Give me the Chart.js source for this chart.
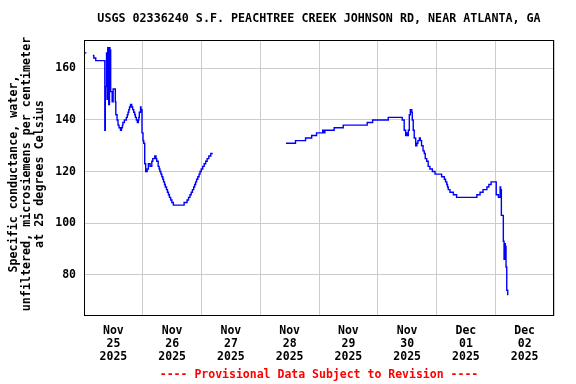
<!DOCTYPE html>
<html>
<head>
<meta charset="utf-8">
<script src="https://cdn.jsdelivr.net/npm/chart.js@4/dist/chart.umd.min.js"></script>
<style>
  html, body { margin: 0; padding: 0; background: #fff; }
</style>
</head>
<body>
<canvas id="usgs-chart" width="576" height="384"></canvas>
<script>
const titleText = 'USGS 02336240 S.F. PEACHTREE CREEK JOHNSON RD, NEAR ATLANTA, GA';
const yTitle = [
  'Specific conductance, water,',
  'unfiltered, microsiemens per centimeter',
  'at 25 degrees Celsius',
];
const footerText = '---- Provisional Data Subject to Revision ----';

const dayMonths = ['Nov', 'Nov', 'Nov', 'Nov', 'Nov', 'Nov', 'Dec', 'Dec'];
const dayNums = ['25', '26', '27', '28', '29', '30', '01', '02'];
const dayYears = ['2025', '2025', '2025', '2025', '2025', '2025', '2025', '2025'];
const yTicks = [80, 100, 120, 140, 160];

// hours since 2025-11-25 00:00; null = no data
const hours = [
  0, 1, 2,
  3.6, 4.0, 4.8, 8.5, 8.7, 9.2, 9.4, 9.7, 10.1, 10.4, 10.6, 10.9, 11.5, 11.9,
  12.8, 13.0, 13.5, 13.9, 14.3, 14.9, 15.3, 15.7, 15.9, 16.5, 17.3, 17.7, 18.0,
  18.3, 18.6, 19.0, 19.5, 19.9, 20.3, 20.7, 21.0, 21.4, 21.8, 22.2, 22.4, 22.6,
  23.1, 23.3, 23.7, 24.1, 24.4, 24.8, 25.2, 25.8, 26.3, 27.0, 27.7, 28.1, 28.9,
  29.4, 29.7, 30.3, 30.7, 31.0, 31.4, 31.8, 32.2, 32.5, 32.9, 33.2, 33.7, 34.1,
  34.5, 34.9, 35.4, 35.9, 36.5, 40.9, 42.1, 42.7, 43.3, 43.8, 44.3, 44.8, 45.2,
  45.6, 46.0, 46.5, 47.0, 47.4, 47.9, 48.5, 49.1, 49.7, 50.3, 51.0, 51.8, 52.6,
  53.0,
  82.5, 86.4, 90.5, 93.0, 95.0, 97.5, 97.9, 98.4, 102.2, 105.9, 115.7, 117.9,
  124.3, 130.0, 130.8, 131.4, 131.8, 132.2, 132.5, 132.9, 133.3, 133.9, 134.1,
  134.5, 134.9, 135.5, 136.0, 136.4, 137.0, 137.4, 137.9, 138.5, 139.0, 139.4,
  140.0, 140.6, 141.3, 142.3, 143.4, 146.1, 147.2, 147.7, 148.2, 148.5, 148.8,
  149.5, 150.9, 152.2, 160.5, 161.8, 163.0, 164.6, 165.4, 166.3, 168.4, 169.3,
  170.0, 170.2, 170.4, 170.5, 171.3, 171.6, 171.9, 172.1, 172.3, 172.4, 172.7,
  173.1,
];
const conductance = [
  166, 166, null,
  165, 164, 163, 136, 153, 166, 148, 168, 146, 168, 167, 151, 147, 152,
  147, 142, 140, 138, 137, 136, 137, 138, 139, 140, 141, 142, 143,
  144, 145, 146, 145, 144, 143, 142, 141, 140, 139, 140, 141, 143,
  145, 144, 135, 132, 131, 123, 120, 121, 123, 122, 124, 125, 126,
  125, 124, 122, 121, 120, 119, 118, 117, 116, 115, 114, 113, 112,
  111, 110, 109, 108, 107, 108, 109, 110, 111, 112, 113, 114, 115,
  116, 117, 118, 119, 120, 121, 122, 123, 124, 125, 126, 127, 127,
  null,
  131, 132, 133, 134, 135, 136, 135, 136, 137, 138, 139, 140,
  141, 140, 136, 134, 135, 134, 136, 142, 144, 143, 140,
  136, 133, 130, 131, 132, 133, 132, 130, 128, 127, 125,
  124, 122, 121, 120, 119, 118, 117, 116, 115, 114, 113,
  112, 111, 110, 111, 112, 113, 114, 115, 116, 111, 110,
  114, 110, 113, 103, 93, 86, 92, 87, 91, 83, 74,
  72,
];

const monoFont = '"DejaVu Sans Mono", "Liberation Mono", monospace';

// frame round the plot, title, y-axis title and footer
const framePlugin = {
  id: 'frame',
  afterDraw: (chart) => {
    const { ctx, chartArea } = chart;
    const { left, top, right, bottom } = chartArea;
    ctx.save();
    ctx.strokeStyle = '#000';
    ctx.lineWidth = 1;
    ctx.strokeRect(left + 0.5, top + 0.5, right - left - 1, bottom - top - 1);

    const mid = (left + right) / 2;
    ctx.textAlign = 'center';
    ctx.textBaseline = 'middle';
    ctx.font = 'bold 11.7px ' + monoFont;
    ctx.fillStyle = '#000';
    ctx.fillText(titleText, mid, 19);

    ctx.save();
    ctx.translate(0, 174);
    ctx.rotate(-Math.PI / 2);
    yTitle.forEach((line, i) => ctx.fillText(line, 0, 14 + i * 13));
    ctx.restore();

    ctx.font = 'bold 11.5px ' + monoFont;
    ctx.fillStyle = '#ff0000';
    ctx.fillText(footerText, mid, 375);
    ctx.restore();
  },
};

const ctx = document.getElementById('usgs-chart');
new Chart(ctx, {
  type: 'line',
  data: {
    datasets: [
      {
        data: hours.map((h, i) => ({ x: h, y: conductance[i] })),
        borderColor: '#0000ff',
        borderWidth: 1.4,
        pointRadius: 0,
        stepped: true,
        spanGaps: false,
        fill: false,
      },
    ],
  },
  options: {
    responsive: false,
    animation: false,
    layout: { padding: { top: 40, right: 22, bottom: 0, left: 0 } },
    plugins: {
      legend: { display: false },
      tooltip: { enabled: false },
    },
    scales: {
      x: {
        type: 'linear',
        min: 0,
        max: 192,
        afterBuildTicks: (scale) => {
          const ticks = [];
          for (let h = 0; h <= 192; h += 12) ticks.push({ value: h });
          scale.ticks = ticks;
        },
        afterFit: (scale) => {
          scale.height = 68;
        },
        border: { display: false },
        grid: {
          drawTicks: false,
          color: (c) =>
            c.tick && c.tick.value % 24 === 0 ? '#cccccc' : 'rgba(0,0,0,0)',
        },
        ticks: {
          autoSkip: false,
          maxRotation: 0,
          padding: 9,
          color: '#000',
          font: { family: monoFont, size: 11.5, weight: 'bold', lineHeight: 1.13 },
          callback: (value) => {
            if (value % 24 !== 12) return '';
            const d = Math.floor(value / 24);
            return [dayMonths[d], dayNums[d], dayYears[d]];
          },
        },
      },
      y: {
        min: 64,
        max: 171,
        afterBuildTicks: (scale) => {
          scale.ticks = yTicks.map((v) => ({ value: v }));
        },
        afterFit: (scale) => {
          scale.width = 84;
        },
        border: { display: false },
        grid: { drawTicks: false, color: '#cccccc' },
        ticks: {
          padding: 8,
          color: '#000',
          font: { family: monoFont, size: 11.5, weight: 'bold' },
        },
      },
    },
  },
  plugins: [framePlugin],
});
</script>
</body>
</html>
